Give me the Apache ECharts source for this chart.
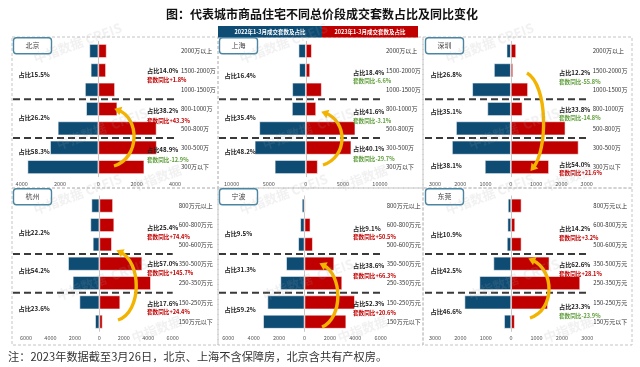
<!DOCTYPE html>
<html><head><meta charset="utf-8">
<script src="https://cdn.jsdelivr.net/npm/echarts@6/dist/echarts.min.js"></script>
<style>html,body{margin:0;padding:0;background:#fff}#c{width:640px;height:367px}</style>
</head><body><div id="c"></div>
<script>
// ---------------- data ----------------
const catsA = ['2000万以上','1500-2000万','1000-1500万','800-1000万','500-800万','300-500万','300万以下'];
const catsB = ['800万元以上','600-800万元','500-600万元','350-500万元','250-350万元','150-250万元','150万元以下'];
const cities = ['北京','上海','深圳','杭州','宁波','东莞'];
const bj2022 = [470,400,700,640,2120,2520,3700];
const bj2023 = [435,400,870,990,3040,3050,2400];
const sh2022 = [990,900,1840,1880,6280,6900,4200];
const sh2023 = [810,580,2150,1390,6680,6140,1610];
const sz2022 = [170,670,1530,930,2170,2330,1030];
const sz2023 = [210,90,680,460,2160,2680,1510];
const hz2022 = [650,735,540,2560,2180,1630,350];
const hz2023 = [1120,1220,1030,3510,4220,1710,270];
const nb2022 = [210,340,500,1450,1900,2920,3260];
const nb2023 = [80,470,660,2340,2970,3970,3290];
const dg2022 = [130,145,170,700,1250,1840,280];
const dg2023 = [410,160,410,1510,2720,1450,145];
const axisMax = [4000,10000,3000,6000,6000,3000];
const axisStep = [2000,5000,1000,2000,2000,1000];
const share2022 = [['15.5%','26.2%','58.3%'],['16.4%','35.4%','48.2%'],['26.8%','35.1%','38.1%'],
                   ['22.2%','54.2%','23.6%'],['9.5%','31.3%','59.2%'],['10.9%','42.5%','46.6%']];
const share2023 = [['14.0%','38.2%','48.9%'],['18.4%','41.6%','40.1%'],['12.2%','33.8%','54.0%'],
                   ['25.4%','57.0%','17.6%'],['9.1%','38.6%','52.3%'],['14.2%','62.6%','23.3%']];
const yoy = [['+1.8%','+43.3%','-12.9%'],['-6.6%','-3.1%','-29.7%'],['-55.8%','-14.8%','+21.6%'],
             ['+74.4%','+145.7%','+24.4%'],['+50.5%','+66.3%','+20.6%'],['+3.2%','+28.1%','-23.9%']];
const legendNames = ['2022年1-3月成交套数及占比','2023年1-3月成交套数及占比'];
const titleText = '图：代表城市商品住宅不同总价段成交套数占比及同比变化';
const noteText = '注：2023年数据截至3月26日，北京、上海不含保障房，北京含共有产权房。';

// ---------------- layout ----------------
const v2022 = [bj2022,sh2022,sz2022,hz2022,nb2022,dg2022];
const v2023 = [bj2023,sh2023,sz2023,hz2023,nb2023,dg2023];
const FONT = '"Noto Sans CJK SC","Noto Sans",sans-serif';
const BLUE='#0E4C74', RED='#C00000', GREEN='#5E9E3A', YEL='#F2B400';
const GRID = [
  {left:21.7, top:41.3, width:153.3},
  {left:231.7, top:41.3, width:148.3},
  {left:435, top:41.3, width:151.7},
  {left:26, top:196, width:146.7},
  {left:228.3, top:196, width:152.4},
  {left:435, top:196, width:152.3}
];
const PX = [12,218,424,12,218,424];
const PY = [37,37,37,188,188,188];
const leftY = [[38,80.3,114.7],[39,81,115],[38,74.7,129],[44.3,83,121],[45.3,82,121.3],[47,83,123.7]];
const shareY = [[33.7,73.7,113],[35.3,74.7,112],[35.7,73,128],[39.3,76,115.3],[40.3,78,115.3],[41,77,118.7]];
const yoyY = [[43,83.7,123],[44.3,83.7,122],[44.7,81.3,136.3],[48.7,85.3,124.3],[49.3,87.7,124.7],[50.3,86,128]];
const ARROWS = [
  [[102,129],[128,121],[128,81],[106,73]],
  [[105,128],[130,120],[130,84],[107,76]],
  [[103,36],[124,48],[124,113],[109,131]],
  [[106,132],[130,124],[130,74],[108,64]],
  [[104,139],[125,130],[125,87],[105,77]],
  [[106,130],[131,122],[131,82],[108,72]]
];

const cats = i => i < 3 ? catsA : catsB;
const option = {
  animation:false,
  textStyle:{fontFamily:FONT},
  grid: GRID.map(g => ({left:g.left, top:g.top, width:g.width, height:135.4})),
  xAxis: GRID.map((g,i) => ({
    gridIndex:i, type:'value', min:-axisMax[i], max:axisMax[i], interval:axisStep[i],
    axisLabel:{formatter:v=>String(Math.abs(v)), fontSize:5.5, color:'#555', margin:4},
    splitLine:{show:false}, axisLine:{show:false}, axisTick:{show:false}
  })),
  yAxis: [],
  series: []
};
GRID.forEach((g,i) => {
  option.yAxis.push({gridIndex:i, type:'category', data:cats(i), inverse:true,
    axisLine:{show:true, onZero:true, lineStyle:{color:'#c8c8c8', width:1}},
    axisTick:{show:false}, axisLabel:{show:false}});
  option.yAxis.push({gridIndex:i, type:'category', data:cats(i), inverse:true, position:'right',
    axisLine:{show:false}, axisTick:{show:false},
    axisLabel:{fontSize:6, color:'#333', margin:6}});
  option.series.push({type:'bar', name:legendNames[0], xAxisIndex:i, yAxisIndex:2*i,
    data:v2022[i].map(v=>-v), barWidth:14, barGap:'-100%',
    itemStyle:{color:BLUE, borderColor:'rgba(255,255,255,0.7)', borderWidth:0.8}});
  option.series.push({type:'bar', name:legendNames[1], xAxisIndex:i, yAxisIndex:2*i,
    data:v2023[i], barWidth:14, barGap:'-100%',
    itemStyle:{color:RED, borderColor:'rgba(255,255,255,0.7)', borderWidth:0.8}});
});

const chart = echarts.init(document.getElementById('c'));
chart.setOption(option);

// ---------------- decorations ----------------
const G = [];
const T = (x,y,text,style,z) => ({type:'text', z:z||50, style:Object.assign({x:x,y:y,text:text,fill:'#222',
  font:'bold 6.2px '+FONT, textAlign:'left', textVerticalAlign:'middle'}, style||{})});

// panel frames
const cols = [[12,218],[218,423],[423,632]];
const rows = [[37,188],[188,345]];
rows.forEach(r => cols.forEach(c => G.push({type:'rect', z:-5,
  shape:{x:c[0], y:r[0], width:c[1]-c[0], height:r[1]-r[0]},
  style:{fill:'none', stroke:'#c4c4c4', lineWidth:1, lineDash:[3,2]}})));

// watermarks
GRID.forEach((g,i) => {
  [[22,22,'中指数据 CREIS'],[45,108,'中指数据  CREIS'],[120,150,'中指数据']].forEach(w => {
    G.push({type:'text', z:60, x:PX[i]+w[0], y:PY[i]+w[1], rotation:0.35,
      style:{x:0,y:0,text:w[2], fill:'rgba(160,160,160,0.15)', font:'bold 13px '+FONT,
        textAlign:'left', textVerticalAlign:'middle'}});
  });
});

// title, legend header, note
G.push(T(322,14,titleText,{font:'bold 12px '+FONT, textAlign:'center', fill:'#111'}));
G.push({type:'rect', z:40, shape:{x:218,y:26,width:104,height:11.5}, style:{fill:BLUE}});
G.push({type:'rect', z:40, shape:{x:322,y:26,width:96,height:11.5}, style:{fill:RED}});
G.push(T(270,31.8,legendNames[0],{fill:'#fff', font:'bold 5.5px '+FONT, textAlign:'center'}));
G.push(T(370,31.8,legendNames[1],{fill:'#fff', font:'bold 5.5px '+FONT, textAlign:'center'}));
G.push(T(8,357,noteText,{font:'11.2px '+FONT, fill:'#333'}));

GRID.forEach((g,i) => {
  const px = PX[i], py = PY[i];
  // city box
  G.push({type:'rect', z:45, shape:{x:px+1.5, y:py+0.8, width:38, height:16, r:3},
    style:{fill:'#fff', stroke:'#4A86A3', lineWidth:1.4}});
  G.push(T(px+20.5, py+8.8, cities[i], {font:'7px '+FONT, fill:'#444', textAlign:'center'}, 46));
  // group separators from the category scale
  const c = cats(i);
  const xr = chart.convertToPixel({xAxisIndex:i}, axisMax[i]);
  [[2,3],[4,5]].forEach(p => {
    const ya = chart.convertToPixel({yAxisIndex:2*i}, c[p[0]]);
    const yb = chart.convertToPixel({yAxisIndex:2*i}, c[p[1]]);
    const y = (ya+yb)/2;
    G.push({type:'line', z:30, shape:{x1:px+1, y1:y, x2:xr, y2:y},
      style:{stroke:'#3a3a3a', lineWidth:2, lineDash:[7,4]}});
  });
  // annotations
  for (let k=0;k<3;k++) {
    G.push(T(px+6.5, py+leftY[i][k], '占比'+share2022[i][k]));
    G.push(T(px+135, py+shareY[i][k], '占比'+share2023[i][k]));
    const neg = yoy[i][k].charAt(0)==='-';
    G.push(T(px+135, py+yoyY[i][k], '套数同比'+yoy[i][k], {fill:neg?GREEN:RED, font:'bold 5.6px '+FONT}));
  }
  // arrow
  const a = ARROWS[i].map(p => [px+p[0], py+p[1]]);
  G.push({type:'bezierCurve', z:55, shape:{x1:a[0][0],y1:a[0][1],cpx1:a[1][0],cpy1:a[1][1],
    cpx2:a[2][0],cpy2:a[2][1],x2:a[3][0],y2:a[3][1]}, style:{stroke:YEL, lineWidth:3.4, fill:'none'}});
  let dx = a[3][0]-a[2][0], dy = a[3][1]-a[2][1];
  const L = Math.hypot(dx,dy); dx/=L; dy/=L;
  const tip = [a[3][0]+dx*4, a[3][1]+dy*4];
  const base = [a[3][0]-dx*3, a[3][1]-dy*3];
  const nx = -dy, ny = dx;
  G.push({type:'polygon', z:56, shape:{points:[tip,[base[0]+nx*4.5,base[1]+ny*4.5],[base[0]-nx*4.5,base[1]-ny*4.5]]},
    style:{fill:YEL}});
});

chart.setOption({graphic:{elements:G}});
</script>
</body></html>
